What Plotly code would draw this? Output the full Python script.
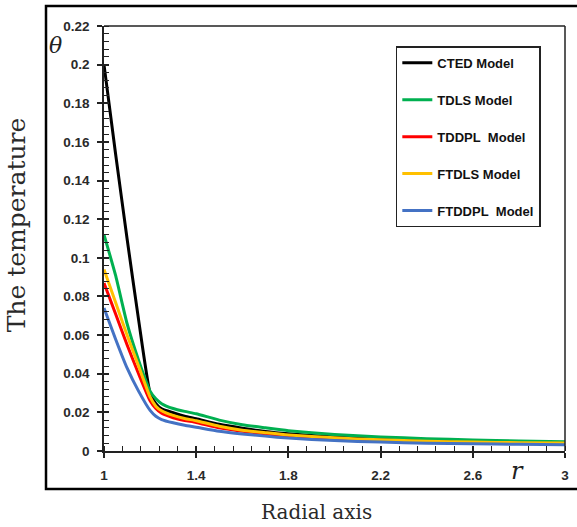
import plotly.graph_objects as go

r = [1.0, 1.05, 1.1, 1.15, 1.2, 1.225, 1.25, 1.3, 1.35, 1.4, 1.5, 1.6, 1.7, 1.8, 2.0, 2.2, 2.4, 2.6, 2.8, 3.0]

cted   = [0.200, 0.154, 0.110, 0.068, 0.030, 0.0245, 0.0218, 0.0198, 0.0180, 0.0167, 0.0138, 0.0118, 0.0101, 0.0089, 0.0072, 0.0061, 0.0053, 0.0047, 0.0043, 0.0040]
tdls   = [0.112, 0.091, 0.066, 0.047, 0.031, 0.0270, 0.0245, 0.0220, 0.0205, 0.0193, 0.0160, 0.0136, 0.0120, 0.0105, 0.0086, 0.0073, 0.0064, 0.0057, 0.0052, 0.0048]
tddpl  = [0.087, 0.071, 0.055, 0.040, 0.026, 0.0220, 0.0195, 0.0172, 0.0158, 0.0148, 0.0120, 0.0102, 0.0089, 0.0078, 0.0063, 0.0054, 0.0047, 0.0042, 0.0039, 0.0037]
ftdls  = [0.094, 0.077, 0.060, 0.044, 0.028, 0.0232, 0.0208, 0.0184, 0.0168, 0.0157, 0.0128, 0.0108, 0.0095, 0.0083, 0.0068, 0.0058, 0.0051, 0.0046, 0.0043, 0.0041]
ftddpl = [0.074, 0.058, 0.043, 0.031, 0.021, 0.0180, 0.0163, 0.0146, 0.0133, 0.0123, 0.0102, 0.0088, 0.0077, 0.0067, 0.0054, 0.0046, 0.0040, 0.0037, 0.0035, 0.0033]

names = ["CTED Model", "TDLS Model", "TDDPL\u00a0 Model", "FTDLS Model", "FTDDPL\u00a0 Model"]
series = [cted, tdls, tddpl, ftdls, ftddpl]
colors = ["#000000", "#00B050", "#FF0000", "#FFC000", "#4472C4"]

x_ticks = [1, 1.4, 1.8, 2.2, 2.6, 3]
y_ticks = [0, 0.02, 0.04, 0.06, 0.08, 0.1, 0.12, 0.14, 0.16, 0.18, 0.2, 0.22]

fig = go.Figure()
for i, (nm, ys, c) in enumerate(zip(names, series, colors)):
    fig.add_trace(go.Scatter(x=r, y=ys, name=nm, mode="lines",
                             line=dict(color=c, width=3, shape="spline", smoothing=0.5),
                             legendgroup=f"g{i}"))

# dummy trace for overlay axes (inner part of major ticks)
fig.add_trace(go.Scatter(x=[None], y=[None], xaxis="x2", yaxis="y2",
                         showlegend=False, hoverinfo="skip"))

tickfont = dict(family="Liberation Sans", size=13.5, color="#2a2a2a", weight="bold")

fig.update_layout(
    width=577, height=527,
    margin=dict(l=104, r=12, t=26, b=76),
    paper_bgcolor="white", plot_bgcolor="white",
    showlegend=True,
    legend=dict(x=0.633, y=0.952, xanchor="left", yanchor="top",
                bordercolor="#222222", borderwidth=1.5, bgcolor="white",
                font=dict(family="Liberation Sans", size=13, color="#111111", weight="bold"),
                tracegroupgap=17, itemwidth=30),
    xaxis=dict(range=[1, 3], tickvals=x_ticks, ticktext=[str(v) for v in x_ticks],
               ticks="outside", ticklen=5, tickwidth=1.5, tickcolor="#222",
               showline=True, linecolor="#222", linewidth=1.5, mirror=False, automargin=False,
               showgrid=False, zeroline=False, tickfont=tickfont, ticklabelstandoff=6,
               minor=dict(dtick=0.08, tick0=1, ticks="inside", ticklen=5, tickwidth=1.2, tickcolor="#222", showgrid=False)),
    yaxis=dict(range=[0, 0.22], tickvals=y_ticks, ticktext=[f"{v:g}" for v in y_ticks],
               ticks="outside", ticklen=5, tickwidth=1.5, tickcolor="#222",
               showline=True, linecolor="#222", linewidth=1.5, mirror=False, automargin=False,
               showgrid=False, zeroline=False, tickfont=tickfont, ticklabelstandoff=5,
               minor=dict(dtick=0.004, tick0=0, ticks="inside", ticklen=5, tickwidth=1.2, tickcolor="#222", showgrid=False)),
    xaxis2=dict(overlaying="x", range=[1, 3], tickvals=x_ticks, ticks="inside", ticklen=5, tickwidth=1.5,
                tickcolor="#222", showticklabels=False, showline=False, showgrid=False, zeroline=False,
                anchor="y2", side="bottom", automargin=False),
    yaxis2=dict(overlaying="y", range=[0, 0.22], tickvals=y_ticks, ticks="inside", ticklen=5, tickwidth=1.5,
                tickcolor="#222", showticklabels=False, showline=False, showgrid=False, zeroline=False,
                anchor="x2", side="left", automargin=False),
)

# plot frame top/right thin line
fig.add_shape(type="line", xref="paper", yref="paper", x0=0, x1=1, y0=1, y1=1,
              line=dict(color="#222", width=1.5))
fig.add_shape(type="line", xref="paper", yref="paper", x0=1, x1=1, y0=0, y1=1,
              line=dict(color="#222", width=1.5))
# outer frame
fig.add_shape(type="rect", xref="paper", yref="paper", x0=-0.1258, x1=1.04, y0=-0.0894, y1=1.047,
              line=dict(color="#000", width=2.5), layer="above")

serif = "DejaVu Serif"
fig.add_annotation(text="θ", xref="paper", yref="paper", x=-0.106, y=0.955,
                   xanchor="center", yanchor="middle",
                   showarrow=False, font=dict(family=serif, size=22, color="#222", style="italic"))
fig.add_annotation(text="r", xref="paper", yref="paper", x=0.896, y=-0.047,
                   xanchor="center", yanchor="middle",
                   showarrow=False, font=dict(family=serif, size=24, color="#222", style="italic"))
fig.add_annotation(text="The temperature", xref="paper", yref="paper", x=-0.19, y=0.532,
                   xanchor="center", yanchor="middle",
                   textangle=-90, showarrow=False, font=dict(family=serif, size=25, color="#2a2a2a"))
fig.add_annotation(text="Radial axis", xref="paper", yref="paper", x=0.462, y=-0.144,
                   xanchor="center", yanchor="middle",
                   showarrow=False, font=dict(family=serif, size=20, color="#2a2a2a"))

fig.write_html("out.html")
